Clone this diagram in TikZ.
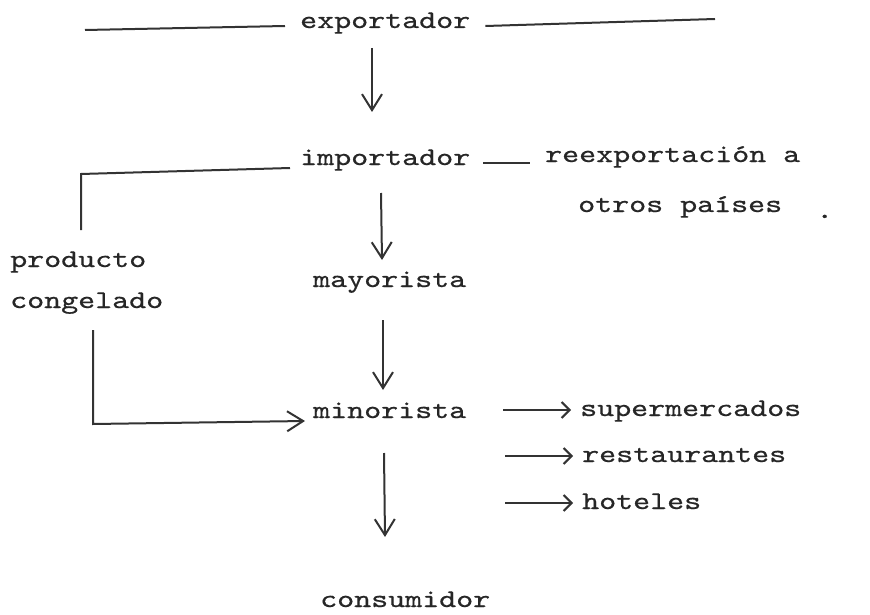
\documentclass[tikz,border=0pt]{standalone}
\usepackage{fontspec}
\newfontfamily\maquina{lmmono10-regular.otf}[FakeStretch=1.27, FakeBold=0.6]
\usetikzlibrary{arrows.meta}

\tikzset{
	texto/.style={anchor=base west, inner sep=0pt, font=\maquina\fontsize{25.5}{30}\selectfont, text=black!85},
	trazo/.style={line width=2pt, draw=black!80},
	flecha/.style={trazo, -{Straight Barb[length=16pt, width=20pt, line width=2pt]}},
	flechita/.style={trazo, -{Straight Barb[length=8pt, width=16pt, line width=2pt]}}
}

\begin{document}
\begin{tikzpicture}[x=1pt, y=-1pt]
	\useasboundingbox (0,0) rectangle (870,615);
	% textos
	\node [texto] (exp) at (300,28) {exportador};
	\node [texto] (imp) at (300,165) {importador};
	\node [texto] (reex) at (545,162) {reexportación a};
	\node [texto] (otros) at (578,212) {otros países};
	\node [texto] (punto) at (816,218) {.};
	\node [texto] (prod) at (10,267) {producto};
	\node [texto] (cong) at (10,308) {congelado};
	\node [texto] (may) at (313,287) {mayorista};
	\node [texto] (min) at (313,418) {minorista};
	\node [texto] (super) at (580,416) {supermercados};
	\node [texto] (rest) at (582,462) {restaurantes};
	\node [texto] (hot) at (582,509) {hoteles};
	\node [texto] (cons) at (320,607) {consumidor};
	% puntos sueltos
	\coordinate (izq) at (85,30);
	\coordinate (der) at (715,19);
	\coordinate (esq) at (81,174);
	\coordinate (esq2) at (93,424);
	% lineas
	\draw [trazo] (izq) -- ([xshift=-15pt,yshift=2pt]exp.base west);
	\draw [trazo] ([xshift=15pt,yshift=2pt]exp.base east) -- (der);
	\draw [trazo] ([xshift=13pt,yshift=2pt]imp.base east) -- ([xshift=-15pt,yshift=-1pt]reex.base west);
	\draw [trazo] ([xshift=-10pt,yshift=-3pt]imp.base west) -- (esq) -- ([yshift=-56pt]esq);
	\draw [flecha] ([xshift=83pt,yshift=-22pt]cong.base west) -- (esq2) -- ([xshift=-8pt,yshift=-3pt]min.base west);
	% flechas verticales
	\draw [flecha] ([xshift=72pt,yshift=-20pt]exp.base west) -- ([xshift=72pt,yshift=53pt]imp.base west);
	\draw [flecha] ([xshift=81pt,yshift=-28pt]imp.base west) -- ([xshift=69pt,yshift=27pt]may.base west);
	\draw [flecha] ([xshift=70pt,yshift=-33pt]may.base west) -- ([xshift=70pt,yshift=28pt]min.base west);
	\draw [flecha] ([xshift=71pt,yshift=-35pt]min.base west) -- ([xshift=65pt,yshift=70pt]cons.base west);
	% flechas cortas
	\foreach \dest in {super, rest, hot}
		\draw [flechita] ([xshift=-77pt,yshift=6pt]\dest.base west) -- ([xshift=-9pt,yshift=6pt]\dest.base west);
\end{tikzpicture}
\end{document}
